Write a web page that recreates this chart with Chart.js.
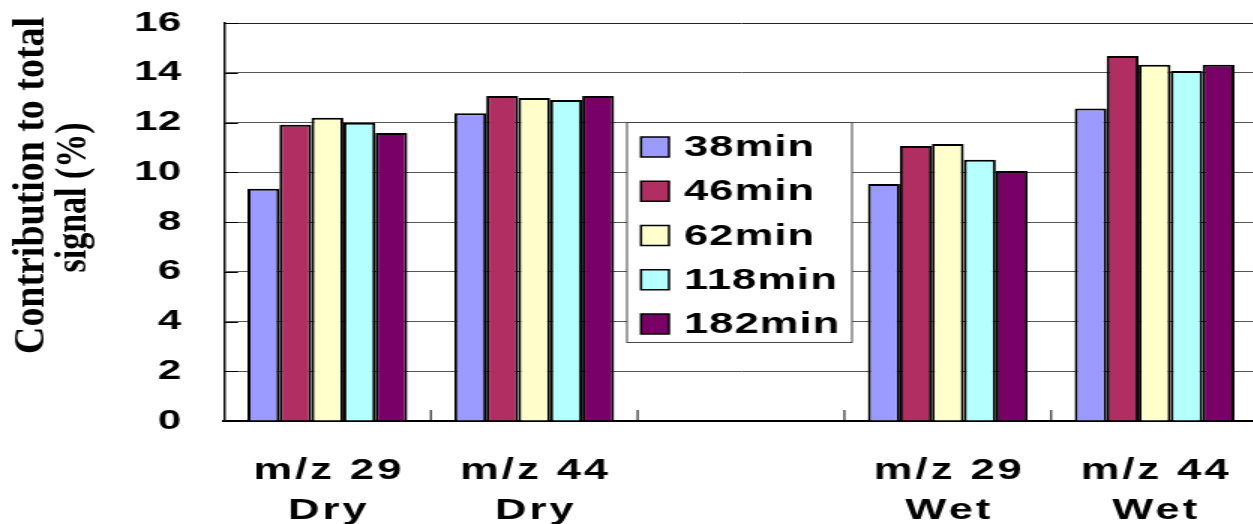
<!DOCTYPE html>
<html>
<head>
<meta charset="utf-8">
<script src="https://cdn.jsdelivr.net/npm/chart.js@4/dist/chart.umd.min.js"></script>
<style>
  html, body { margin: 0; padding: 0; background: #fff; overflow: hidden; }
  canvas { display: block; }
</style>
</head>
<body>
<!-- The canvas is laid out at two-thirds width and widened by CSS, which gives the broad lettering -->
<canvas id="chart" width="840" height="524" style="width:1260px;height:524px"></canvas>
<script>
const categories = [["m/z 29", "Dry"], ["m/z 44", "Dry"], "", ["m/z 29", "Wet"], ["m/z 44", "Wet"]];
const seriesNames = ["38min", "46min", "62min", "118min", "182min"];
const v38  = [9.34, 12.37, null, 9.53, 12.56];
const v46  = [11.91, 13.07, null, 11.06, 14.67];
const v62  = [12.19, 12.98, null, 11.14, 14.32];
const v118 = [11.99, 12.90, null, 10.50, 14.07];
const v182 = [11.58, 13.07, null, 10.05, 14.32];
const yTickValues = [0, 2, 4, 6, 8, 10, 12, 14, 16];
const yTitleLines = ["Contribution to total", "signal (%)"];
const seriesColors = ["#9b9bff", "#b02e62", "#ffffcc", "#b4ffff", "#780066"];

const SX = 1.5; // horizontal CSS widening of the canvas
const SANS = "'Liberation Sans', Arial, sans-serif";
const PLOT_LEFT = 224 / SX, PLOT_RIGHT = 1258 / SX, PLOT_TOP = 23, PLOT_BOTTOM = 421;

// Rotated two-line axis title in a condensed bold serif
const yTitlePlugin = {
  id: 'yTitle',
  afterDraw(chart) {
    const ctx = chart.ctx;
    const lines = [
      { text: yTitleLines[0], x: 44 / SX, y: 185.5, len: 337 },
      { text: yTitleLines[1], x: 86 / SX, y: 197.5, len: 150 }
    ];
    ctx.save();
    ctx.fillStyle = '#000';
    ctx.font = "bold 38px 'Liberation Serif', 'Times New Roman', serif";
    ctx.textAlign = 'center';
    ctx.textBaseline = 'alphabetic';
    for (const l of lines) {
      ctx.save();
      ctx.translate(l.x, l.y);
      ctx.scale(0.75, 1);
      ctx.rotate(-Math.PI / 2);
      ctx.fillText(l.text, 0, 0, l.len);
      ctx.restore();
    }
    ctx.restore();
  }
};

// Short inward tick marks on both axes
const innerTicksPlugin = {
  id: 'innerTicks',
  afterDatasetsDraw(chart) {
    const { ctx, chartArea: a, scales: { x, y } } = chart;
    ctx.save();
    ctx.strokeStyle = '#000';
    ctx.lineWidth = 1;
    ctx.beginPath();
    y.ticks.forEach(t => {
      const py = Math.round(y.getPixelForValue(t.value)) + 0.5;
      ctx.moveTo(a.left, py);
      ctx.lineTo(a.left + 14 / SX, py);
    });
    const w = x.getPixelForValue(1) - x.getPixelForValue(0);
    for (let i = 1; i < categories.length; i++) {
      const px = x.getPixelForValue(i) - w / 2;
      ctx.moveTo(px, a.bottom);
      ctx.lineTo(px, a.bottom - 11);
    }
    ctx.stroke();
    ctx.restore();
  }
};

// Boxed legend sitting over the empty middle category
const boxLegendPlugin = {
  id: 'boxLegend',
  afterDraw(chart) {
    const ctx = chart.ctx;
    const l = 627 / SX, t = 122.5, r = 852 / SX, b = 342.5;
    ctx.save();
    ctx.fillStyle = '#fff';
    ctx.fillRect(l, t, r - l, b - t);
    ctx.strokeStyle = '#444';
    ctx.lineWidth = 1;
    ctx.strokeRect(l, t, r - l, b - t);
    ctx.font = "bold 29px " + SANS;
    ctx.textBaseline = 'middle';
    ctx.textAlign = 'left';
    try { ctx.letterSpacing = '0.7px'; } catch (e) {}
    chart.data.datasets.forEach((ds, i) => {
      const cy = 147 + i * 44.25;
      const sx = 641 / SX, sw = 28 / SX, sh = 20;
      ctx.fillStyle = ds.backgroundColor;
      ctx.fillRect(sx, cy - sh / 2, sw, sh);
      ctx.strokeStyle = '#000';
      ctx.lineWidth = 1.5;
      ctx.strokeRect(sx, cy - sh / 2, sw, sh);
      ctx.fillStyle = '#000';
      ctx.fillText(ds.label, 684 / SX, cy + 1);
    });
    ctx.restore();
  }
};

// Pin the plot rectangle and give the category labels a little tracking
const plotFramePlugin = {
  id: 'plotFrame',
  afterLayout(chart) {
    const a = chart.chartArea;
    const y = chart.scales.y, x = chart.scales.x;
    a.left = PLOT_LEFT; a.right = PLOT_RIGHT; a.width = PLOT_RIGHT - PLOT_LEFT;
    a.top = PLOT_TOP; a.bottom = PLOT_BOTTOM; a.height = PLOT_BOTTOM - PLOT_TOP;
    y.top = PLOT_TOP; y.bottom = PLOT_BOTTOM; y.height = PLOT_BOTTOM - PLOT_TOP;
    y.left = 0; y.right = PLOT_LEFT; y.width = PLOT_LEFT;
    x.left = PLOT_LEFT; x.right = PLOT_RIGHT; x.width = PLOT_RIGHT - PLOT_LEFT;
    x.top = PLOT_BOTTOM; x.bottom = chart.height; x.height = chart.height - PLOT_BOTTOM;
    y.configure();
    x.configure();
    if (!x._trackedLabels) {
      const drawLabels = x.drawLabels;
      x.drawLabels = function (area) {
        const ctx = this.ctx;
        ctx.save();
        try { ctx.letterSpacing = '2px'; } catch (e) {}
        ctx.translate(1, 0);
        drawLabels.call(this, area);
        ctx.restore();
      };
      x._trackedLabels = true;
    }
  }
};

const seriesValues = [v38, v46, v62, v118, v182];

new Chart(document.getElementById('chart'), {
  type: 'bar',
  data: {
    labels: categories,
    datasets: seriesNames.map((name, i) => ({
      label: name,
      data: seriesValues[i],
      backgroundColor: seriesColors[i],
      borderColor: '#000',
      borderWidth: 2,
      categoryPercentage: 0.773,
      barPercentage: 1.0
    }))
  },
  options: {
    responsive: false,
    animation: false,
    devicePixelRatio: 1,
    layout: { padding: { top: PLOT_TOP, right: 1, left: 0, bottom: 0 } },
    plugins: {
      legend: { display: false },
      tooltip: { enabled: false },
      title: { display: false }
    },
    scales: {
      x: {
        afterFit(s) { s.height = 103; },
        grid: { drawOnChartArea: false, drawTicks: false },
        border: { display: true, color: '#000', width: 2 },
        ticks: {
          autoSkip: false,
          maxRotation: 0,
          minRotation: 0,
          padding: 29.5,
          color: '#000',
          font: { family: SANS, size: 29, weight: 'bold', lineHeight: '40px' }
        }
      },
      y: {
        min: 0,
        max: 16,
        afterFit(s) { s.width = PLOT_LEFT; },
        afterBuildTicks(s) { s.ticks = yTickValues.map(v => ({ value: v })); },
        grid: {
          drawTicks: false,
          color: ctx => (ctx.tick && ctx.tick.value === 16 ? '#222' : '#555'),
          lineWidth: 1
        },
        border: { display: true, color: '#111', width: 1.5 },
        ticks: {
          padding: 28.6,
          color: '#000',
          font: { family: SANS, size: 28, weight: 'bold' }
        }
      }
    }
  },
  plugins: [plotFramePlugin, innerTicksPlugin, boxLegendPlugin, yTitlePlugin]
});
</script>
</body>
</html>
